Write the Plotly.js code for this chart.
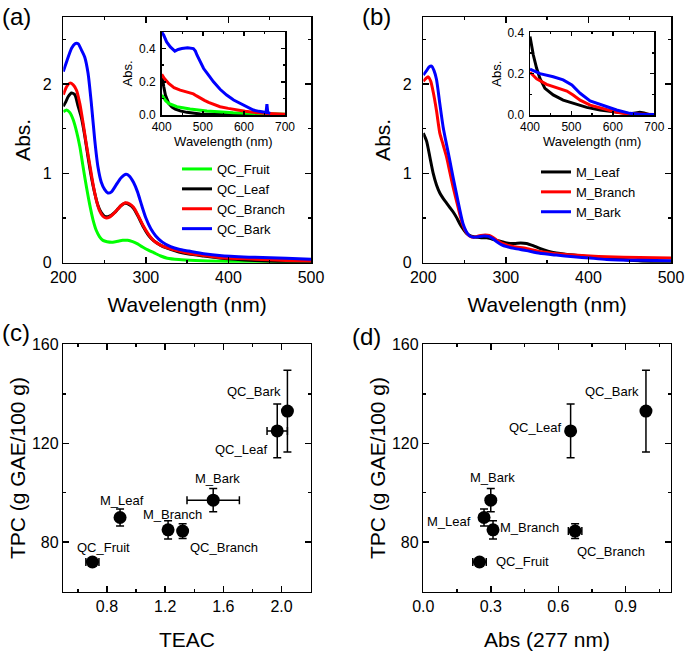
<!DOCTYPE html>
<html><head><meta charset="utf-8">
<script src="https://cdn.plot.ly/plotly-3.0.1.min.js"></script>
<style>html,body{margin:0;padding:0;background:#fff}#chart{width:685px;height:651px}</style>
</head><body><div id="chart"></div>
<script>
// ---------- Panel (a): QC spectra ----------
const wlQCFruit  = [200,204,208,212,216,220,224,228,232,236,240,244,248,253,260,266,272,278,284,290,296,303,310,318,326,340,360,390,430,500];
const absQCFruit = [1.69,1.71,1.68,1.60,1.47,1.30,1.07,0.85,0.65,0.48,0.36,0.29,0.25,0.235,0.23,0.24,0.25,0.25,0.235,0.21,0.175,0.14,0.11,0.075,0.05,0.035,0.025,0.015,0.01,0.005];
const wlQCLeaf   = [200,203,206,210,214,218,222,226,230,234,238,242,246,250,254,258,262,266,270,275,280,285,290,297,303,309,317,325,340,352,370,392,432,470,500];
const absQCLeaf  = [1.75,1.80,1.86,1.90,1.88,1.75,1.62,1.42,1.18,0.96,0.78,0.64,0.56,0.52,0.515,0.53,0.56,0.60,0.64,0.665,0.65,0.61,0.53,0.40,0.31,0.25,0.20,0.165,0.12,0.097,0.075,0.05,0.025,0.01,0.005];
const wlQCBranch = [200,204,208,212,216,220,224,228,232,236,240,244,248,252,256,260,266,270,275,280,285,290,297,303,309,317,325,340,352,370,392,432,470,500];
const absQCBranch= [1.88,1.97,2.01,1.99,1.93,1.78,1.56,1.32,1.10,0.88,0.70,0.58,0.52,0.50,0.51,0.54,0.60,0.64,0.67,0.66,0.62,0.54,0.41,0.32,0.25,0.20,0.17,0.13,0.105,0.08,0.055,0.04,0.025,0.02];
const wlQCBark   = [200,204,210,214,218,222,226,230,234,238,242,246,250,254,258,264,270,276,280,285,290,295,300,306,312,320,330,340,352,370,392,432,470,500];
const absQCBark  = [2.14,2.25,2.40,2.45,2.45,2.38,2.30,2.12,1.78,1.38,1.07,0.90,0.82,0.78,0.79,0.87,0.95,0.99,0.97,0.90,0.79,0.64,0.50,0.38,0.30,0.23,0.18,0.15,0.13,0.10,0.078,0.06,0.05,0.04];

// ---------- Inset (a) ----------
const wlInQCFruit  = [400,405,410,417,437,469,510,574,639,700];
const absInQCFruit = [0.12,0.10,0.085,0.07,0.05,0.036,0.024,0.014,0.008,0.004];
const wlInQCLeaf   = [400,402,405,409,417,425,433,445,461,494,550,620,700];
const absInQCLeaf  = [0.21,0.22,0.17,0.12,0.07,0.048,0.036,0.025,0.016,0.006,0.004,0.003,0.002];
const wlInQCBranch = [400,405,417,430,445,460,477,485,494,504,514,528,542,562,583,603,623,650,700];
const absInQCBranch= [0.245,0.225,0.19,0.165,0.15,0.14,0.127,0.115,0.10,0.088,0.076,0.062,0.05,0.04,0.03,0.022,0.016,0.01,0.004];
const wlInQCBark   = [400,405,412,421,432,440,449,463,477,482,486,494,502,514,526,542,558,575,591,607,623,637,651,654,656,658,664];
const absInQCBark  = [0.50,0.48,0.44,0.41,0.385,0.395,0.40,0.405,0.40,0.385,0.36,0.32,0.28,0.24,0.20,0.155,0.12,0.09,0.07,0.048,0.03,0.022,0.016,0.015,0.066,0.015,0.01];

// ---------- Panel (b): M spectra ----------
const wlMLeaf    = [200,204,208,212,216,220,224,228,232,236,240,244,248,252,256,261,265,270,277,283,289,295,301,310,318,325,333,341,351,361,382,402,422,462,500];
const absMLeaf   = [1.45,1.36,1.18,1.00,0.87,0.78,0.72,0.67,0.62,0.57,0.51,0.44,0.38,0.33,0.305,0.29,0.285,0.28,0.28,0.265,0.25,0.235,0.22,0.215,0.22,0.215,0.19,0.16,0.13,0.11,0.085,0.065,0.05,0.02,0.01];
const wlMBranch  = [200,203,206,209,212,216,220,224,228,232,236,240,244,248,252,256,261,265,270,275,280,285,289,295,301,310,325,341,361,382,402,422,462,500];
const absMBranch = [2.03,2.06,2.08,2.03,1.91,1.70,1.45,1.32,1.19,1.02,0.85,0.70,0.55,0.42,0.34,0.30,0.285,0.295,0.305,0.31,0.305,0.28,0.25,0.22,0.20,0.18,0.16,0.125,0.10,0.085,0.075,0.067,0.058,0.052];
const wlMBark    = [200,204,207,210,213,216,220,224,228,232,236,240,244,248,252,256,261,266,273,279,284,289,295,301,310,325,341,361,382,402,422,462,500];
const absMBark   = [2.10,2.15,2.19,2.20,2.15,2.05,1.78,1.52,1.33,1.15,0.96,0.78,0.60,0.44,0.35,0.30,0.285,0.29,0.30,0.295,0.27,0.235,0.20,0.18,0.16,0.135,0.105,0.085,0.067,0.052,0.037,0.027,0.022];

// ---------- Inset (b) ----------
const wlInMLeaf    = [400,404,408,416,424,436,456,480,504,537,569,609,641,655,665,675,689,700];
const absInMLeaf   = [0.38,0.33,0.29,0.226,0.177,0.129,0.097,0.072,0.057,0.037,0.024,0.013,0.006,0.01,0.013,0.01,0.002,0.001];
const wlInMBranch  = [400,416,440,464,489,504,521,545,577,609,633,700];
const absInMBranch = [0.207,0.175,0.148,0.132,0.116,0.097,0.072,0.048,0.029,0.013,0.006,0.002];
const wlInMBark    = [400,424,456,480,501,521,545,577,609,641,670,700];
const absInMBark   = [0.222,0.20,0.185,0.17,0.145,0.105,0.068,0.045,0.024,0.008,0.003,0.002];

// ---------- Panels (c), (d): scatter ----------
const sampleNames = ['QC_Fruit','QC_Leaf','QC_Branch','QC_Bark','M_Leaf','M_Branch','M_Bark'];
const tpc         = [72, 125, 84.5, 133, 90, 85, 97];
const tpcErr      = [1.2, 10.9, 3.0, 16.5, 3.4, 3.7, 4.7];
const teac        = [0.70, 1.97, 1.32, 2.04, 0.89, 1.22, 1.53];
const teacErr     = [0.045, 0.07, 0.02, 0.02, 0.02, 0.02, 0.18];
const abs277      = [0.25, 0.655, 0.675, 0.99, 0.27, 0.31, 0.30];
const abs277Err   = [0.03, 0.01, 0.03, 0.01, 0.02, 0.015, 0.015];

// ---------- styling / layout ----------
const labelShiftC = {QC_Fruit:[11,15], QC_Leaf:[-36,-19], QC_Branch:[41,-16], QC_Bark:[-33,20], M_Leaf:[2,17], M_Branch:[4,15], M_Bark:[4,22]};
const labelShiftD = {QC_Fruit:[43,1], QC_Leaf:[-36,3], QC_Branch:[36,-20], QC_Bark:[-34,20], M_Leaf:[-35,-4], M_Branch:[36,2], M_Bark:[2,23]};

const W = 685, H = 651;
const fx = p => p / W, fy = p => 1 - p / H;
const FONT = 'Liberation Sans, Arial, Helvetica, sans-serif';
const GREEN = '#00ff00', RED = '#ff0000', BLUE = '#0000ff', BLACK = '#000000';

function mkAxis(o) {
  const big = !o.small;
  const a = {
    showline: true, linecolor: '#000', linewidth: 1.5, mirror: 'ticks',
    ticks: 'inside', ticklen: big ? 6 : 4, tickwidth: 1.5, tickcolor: '#000',
    showgrid: false, zeroline: false, automargin: false,
    tickfont: {size: big ? 16 : 12, color: '#000', family: FONT},
    ticklabelstandoff: o.lblOff || 0,
    minor: {ticks: 'inside', ticklen: big ? 3 : 2, tickwidth: 1.5, tickcolor: '#000', showgrid: false, dtick: o.minor},
    dtick: o.dtick, tick0: 0, range: o.range, domain: o.domain, anchor: o.anchor,
    title: {text: o.title, font: {size: big ? 21 : 13, color: '#000', family: FONT}, standoff: o.standoff}
  };
  if (o.fmt) a.tickformat = o.fmt;
  return a;
}

function line(x, y, color, name, xa, ya, legend, show, shape) {
  return {x: x, y: y, type: 'scatter', mode: 'lines', name: name, xaxis: xa, yaxis: ya,
          legend: legend, showlegend: show,
          line: {color: color, width: 3, shape: shape || 'spline', smoothing: 0.6}, hoverinfo: 'skip'};
}

const traces = [
  line(wlQCFruit, absQCFruit, GREEN, 'QC_Fruit', 'x', 'y', 'legend', true),
  line(wlQCLeaf, absQCLeaf, BLACK, 'QC_Leaf', 'x', 'y', 'legend', true),
  line(wlQCBranch, absQCBranch, RED, 'QC_Branch', 'x', 'y', 'legend', true),
  line(wlQCBark, absQCBark, BLUE, 'QC_Bark', 'x', 'y', 'legend', true),
  line(wlMLeaf, absMLeaf, BLACK, 'M_Leaf', 'x2', 'y2', 'legend2', true),
  line(wlMBranch, absMBranch, RED, 'M_Branch', 'x2', 'y2', 'legend2', true),
  line(wlMBark, absMBark, BLUE, 'M_Bark', 'x2', 'y2', 'legend2', true),
  line(wlInQCLeaf, absInQCLeaf, BLACK, 'QC_Leaf', 'x5', 'y5', 'legend', false, 'linear'),
  line(wlInQCFruit, absInQCFruit, GREEN, 'QC_Fruit', 'x5', 'y5', 'legend', false, 'linear'),
  line(wlInQCBranch, absInQCBranch, RED, 'QC_Branch', 'x5', 'y5', 'legend', false, 'linear'),
  line(wlInQCBark, absInQCBark, BLUE, 'QC_Bark', 'x5', 'y5', 'legend', false, 'linear'),
  line(wlInMLeaf, absInMLeaf, BLACK, 'M_Leaf', 'x6', 'y6', 'legend2', false, 'linear'),
  line(wlInMBranch, absInMBranch, RED, 'M_Branch', 'x6', 'y6', 'legend2', false, 'linear'),
  line(wlInMBark, absInMBark, BLUE, 'M_Bark', 'x6', 'y6', 'legend2', false, 'linear'),
  {x: teac, y: tpc, type: 'scatter', mode: 'markers', xaxis: 'x3', yaxis: 'y3', showlegend: false,
   marker: {color: '#000', size: 13},
   error_y: {type: 'data', array: tpcErr, visible: true, color: '#000', thickness: 1.5, width: 4},
   error_x: {type: 'data', array: teacErr, visible: true, color: '#000', thickness: 1.5, width: 4}},
  {x: abs277, y: tpc, type: 'scatter', mode: 'markers', xaxis: 'x4', yaxis: 'y4', showlegend: false,
   marker: {color: '#000', size: 13},
   error_y: {type: 'data', array: tpcErr, visible: true, color: '#000', thickness: 1.5, width: 4},
   error_x: {type: 'data', array: abs277Err, visible: true, color: '#000', thickness: 1.5, width: 4}}
];

const annotations = [];
sampleNames.forEach((n, i) => {
  annotations.push({xref: 'x3', yref: 'y3', x: teac[i], y: tpc[i], text: n, showarrow: false,
    xshift: labelShiftC[n][0], yshift: labelShiftC[n][1], font: {size: 13, color: '#000', family: FONT}});
  annotations.push({xref: 'x4', yref: 'y4', x: abs277[i], y: tpc[i], text: n, showarrow: false,
    xshift: labelShiftD[n][0], yshift: labelShiftD[n][1], font: {size: 13, color: '#000', family: FONT}});
});
[['(a)', 0, 16], ['(b)', 360, 16], ['(c)', 0, 332], ['(d)', 350, 336]].forEach(p => {
  annotations.push({xref: 'paper', yref: 'paper', x: fx(p[1]), y: fy(p[2]), xanchor: 'left', yanchor: 'middle',
    text: p[0], showarrow: false, font: {size: 24, color: '#000', family: FONT}});
});

const yTopAB = 17, yBotAB = 262.7, yTopCD = 344.3, yBotCD = 591.7;
const layout = {
  width: W, height: H, margin: {l: 0, r: 0, t: 0, b: 0},
  paper_bgcolor: '#fff', plot_bgcolor: 'rgba(0,0,0,0)',
  font: {family: FONT, color: '#000'},
  showlegend: true,
  xaxis:  mkAxis({range: [200, 500], dtick: 100, minor: 50, lblOff: 0, domain: [fx(63.3), fx(311)], anchor: 'y', title: 'Wavelength (nm)', standoff: 12}),
  yaxis:  mkAxis({range: [0, 2.75], dtick: 1, minor: 0.5, lblOff: 7, domain: [fy(yBotAB), fy(yTopAB)], anchor: 'x', title: 'Abs.', standoff: 6}),
  xaxis2: mkAxis({range: [200, 500], dtick: 100, minor: 50, lblOff: 0, domain: [fx(423.3), fx(671)], anchor: 'y2', title: 'Wavelength (nm)', standoff: 12}),
  yaxis2: mkAxis({range: [0, 2.75], dtick: 1, minor: 0.5, lblOff: 7, domain: [fy(yBotAB), fy(yTopAB)], anchor: 'x2', title: 'Abs.', standoff: 6}),
  xaxis3: mkAxis({range: [0.5, 2.2], dtick: 0.4, minor: 0.2, fmt: '.1f', domain: [fx(63.3), fx(310.7)], anchor: 'y3', title: 'TEAC', standoff: 22}),
  yaxis3: mkAxis({range: [60, 160], dtick: 40, minor: 20, domain: [fy(yBotCD), fy(yTopCD)], anchor: 'x3', title: 'TPC (g GAE/100 g)', standoff: 0}),
  xaxis4: mkAxis({range: [0, 1.1], dtick: 0.3, minor: 0.15, fmt: '.1f', domain: [fx(423.3), fx(670.7)], anchor: 'y4', title: 'Abs (277 nm)', standoff: 23}),
  yaxis4: mkAxis({range: [60, 160], dtick: 40, minor: 20, domain: [fy(yBotCD), fy(yTopCD)], anchor: 'x4', title: 'TPC (g GAE/100 g)', standoff: 0}),
  xaxis5: mkAxis({small: true, range: [400, 700], dtick: 100, minor: 50, domain: [fx(161.7), fx(285)], anchor: 'y5', title: 'Wavelength (nm)', standoff: 2}),
  yaxis5: mkAxis({small: true, range: [0, 0.5], dtick: 0.2, minor: 0.1, fmt: '.1f', lblOff: 2, domain: [fy(115), fy(32)], anchor: 'x5', title: 'Abs.', standoff: 3}),
  xaxis6: mkAxis({small: true, range: [400, 700], dtick: 100, minor: 50, domain: [fx(530), fx(654.3)], anchor: 'y6', title: 'Wavelength (nm)', standoff: 2}),
  yaxis6: mkAxis({small: true, range: [0, 0.4], dtick: 0.2, minor: 0.1, fmt: '.1f', lblOff: 2, domain: [fy(115), fy(32.3)], anchor: 'x6', title: 'Abs.', standoff: 3}),
  legend:  {x: fx(177), y: fy(154), xanchor: 'left', yanchor: 'top', bgcolor: 'rgba(0,0,0,0)', borderwidth: 0,
            font: {size: 13, color: '#000', family: FONT}, itemwidth: 30},
  legend2: {x: fx(536), y: fy(157), xanchor: 'left', yanchor: 'top', bgcolor: 'rgba(0,0,0,0)', borderwidth: 0,
            font: {size: 13, color: '#000', family: FONT}, itemwidth: 30},
  annotations: annotations
};

Plotly.newPlot('chart', traces, layout, {displayModeBar: false, staticPlot: true});
</script>
</body></html>
